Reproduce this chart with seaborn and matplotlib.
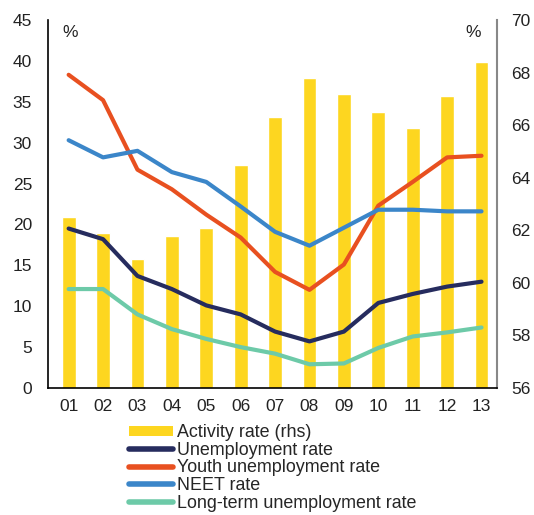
import matplotlib
matplotlib.use("Agg")
import matplotlib.pyplot as plt
import seaborn as sns
import pandas as pd
import numpy as np
from matplotlib.patches import Patch
from matplotlib.lines import Line2D

years = ["01", "02", "03", "04", "05", "06", "07", "08", "09", "10", "11", "12", "13"]
activity = [62.5, 61.9, 60.9, 61.8, 62.1, 64.5, 66.3, 67.8, 67.2, 66.5, 65.9, 67.1, 68.4]
unemployment = [19.5, 18.2, 13.7, 12.1, 10.1, 9.0, 6.9, 5.7, 6.9, 10.4, 11.5, 12.4, 13.0]
youth = [38.3, 35.2, 26.7, 24.3, 21.2, 18.4, 14.2, 12.0, 15.1, 22.3, 25.2, 28.2, 28.4]
neet = [30.3, 28.2, 29.0, 26.4, 25.2, 22.2, 19.1, 17.4, 19.6, 21.8, 21.8, 21.6, 21.6]
longterm = [12.1, 12.1, 9.0, 7.2, 6.0, 5.0, 4.2, 2.9, 3.0, 4.9, 6.3, 6.8, 7.4]

c_bar = "#FDD620"
c_unemp = "#262C5E"
c_youth = "#E85020"
c_neet = "#3B86C9"
c_long = "#6DCAA8"

sns.set_style("white")
plt.rcParams['font.family'] = ['Liberation Sans', 'DejaVu Sans']

fig = plt.figure(figsize=(5.34, 5.15), dpi=100)
ax = fig.add_axes([48/534, 1-388/515, (497-48)/534, (388-20)/515])
ax2 = ax.twinx()

pos = np.arange(len(years))
df_bar = pd.DataFrame({"x": pos, "v": activity})
sns.barplot(data=df_bar, x="x", y="v", ax=ax2, color=c_bar, width=0.4,
            saturation=1, native_scale=True)

series = [(unemployment, c_unemp, "Unemployment rate"),
          (youth, c_youth, "Youth unemployment rate"),
          (neet, c_neet, "NEET rate"),
          (longterm, c_long, "Long-term unemployment rate")]
for vals, col, lab in series:
    d = pd.DataFrame({"x": pos, "v": vals})
    sns.lineplot(data=d, x="x", y="v", ax=ax, color=col, linewidth=3.0,
                 solid_capstyle="round", solid_joinstyle="round")

ax.set_zorder(ax2.get_zorder() + 1)
ax.patch.set_visible(False)

ax.set_xlim(-0.6, 12.45)
ax2.set_xlim(-0.6, 12.45)
ax.set_ylim(0, 45)
ax2.set_ylim(56, 70)
ax.set_yticks(range(0, 46, 5))
ax2.set_yticks(range(56, 71, 2))
ax.set_xticks(pos)
ax.set_xticklabels(years)
for a in (ax, ax2):
    a.set_xlabel("")
    a.set_ylabel("")
    a.spines["top"].set_visible(False)
ax.spines["right"].set_visible(False)
ax2.spines["left"].set_visible(False)
ax2.spines["bottom"].set_visible(False)
ax.spines["left"].set_color("black")
ax.spines["bottom"].set_color("black")
ax2.spines["right"].set_color("#888888")
for s in ("left", "bottom"):
    ax.spines[s].set_linewidth(1.2)
ax2.spines["right"].set_linewidth(1.5)

ax.tick_params(axis="y", length=0, pad=11.5, labelsize=12.5, colors="#222222")
ax.tick_params(axis="x", length=0, pad=8, labelsize=12.5, colors="#222222")
ax2.tick_params(axis="y", length=0, pad=10.5, labelsize=12.5, colors="#222222")
ax2.tick_params(axis="x", length=0, labelbottom=False)

ax.text(0.049, 0.965, "%", transform=ax.transAxes, fontsize=12.5, color="#222222",
        ha="center", va="center")
ax.text(0.947, 0.965, "%", transform=ax.transAxes, fontsize=12.5, color="#222222",
        ha="center", va="center")

handles = [Patch(facecolor=c_bar, edgecolor="none")] + \
    [Line2D([0], [0], color=c, linewidth=4, solid_capstyle="round") for _, c, _ in series]
labels = ["Activity rate (rhs)"] + [lab for _, _, lab in series]
fig.legend(handles, labels, loc="upper left", bbox_to_anchor=(129/534, 1-424/515),
           frameon=False, fontsize=12.9, handlelength=2.45, handleheight=0.5,
           labelspacing=0.04, handletextpad=0.25, borderaxespad=0, borderpad=0)

fig.savefig("out.png", dpi=100)
